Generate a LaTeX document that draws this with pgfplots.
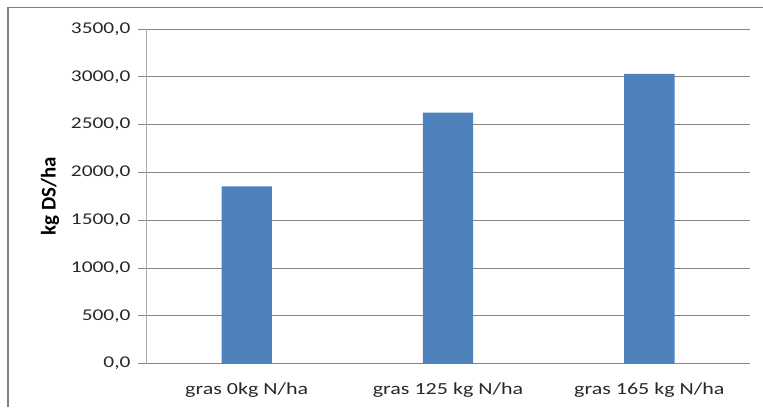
\documentclass[border=0pt]{standalone}
\usepackage{fontspec}
\setmainfont{Carlito}
\newfontfamily\tickfont[FakeStretch=1.3]{Carlito}
\usepackage{pgfplots}
\pgfplotsset{compat=1.18}
\definecolor{barblue}{RGB}{79,129,189}
\definecolor{gridgray}{RGB}{134,134,134}
\definecolor{axisgray}{RGB}{170,170,170}
\definecolor{framegray}{RGB}{128,128,128}
\definecolor{txt}{RGB}{40,40,40}

\begin{document}
\begin{tikzpicture}[x=1bp,y=1bp]
\useasboundingbox (0,0) rectangle (763,407);
\draw[framegray, line width=1.5bp] (8,0) -- (8,399.5) -- (763,399.5);
\begin{axis}[
  at={(146bp,43.3bp)}, anchor=south west,
  scale only axis, width=604bp, height=334.7bp,
  xmin=-0.5, xmax=2.5, ymin=0, ymax=3500,
  ytick={0,500,...,3500},
  xtick={0,1,2},
  xticklabels={gras 0kg N/ha, gras 125 kg N/ha, gras 165 kg N/ha},
  axis x line=bottom, axis y line=left,
  x axis line style={-, gridgray, line width=1bp},
  y axis line style={-, axisgray, line width=1bp},
  ymajorgrids, grid style={gridgray, line width=0.9bp},
  tick align=outside, major tick length=8bp,
  ytick style={gridgray, line width=0.9bp},
  xtick style={draw=none},
  /pgf/number format/.cd, fixed, fixed zerofill, precision=1, use comma, 1000 sep={}, assume math mode=true,
  /pgfplots/.cd,
  yticklabel style={font=\tickfont\fontsize{16.5}{19}\selectfont, text=txt, xshift=-4bp},
  xticklabel style={font=\tickfont\fontsize{17}{20}\selectfont, text=txt, yshift=-8bp},
  ylabel={kg DS/ha},
  every axis y label/.style={font=\bfseries\fontsize{21}{24}\selectfont, text=black,
    at={(axis description cs:-0.159,0.5)}, anchor=center, rotate=90},
  bar width=0.25,
]
\addplot[ybar, fill=barblue, draw=none] coordinates {(0,1855) (1,2625) (2,3030)};
\end{axis}
\end{tikzpicture}
\end{document}
